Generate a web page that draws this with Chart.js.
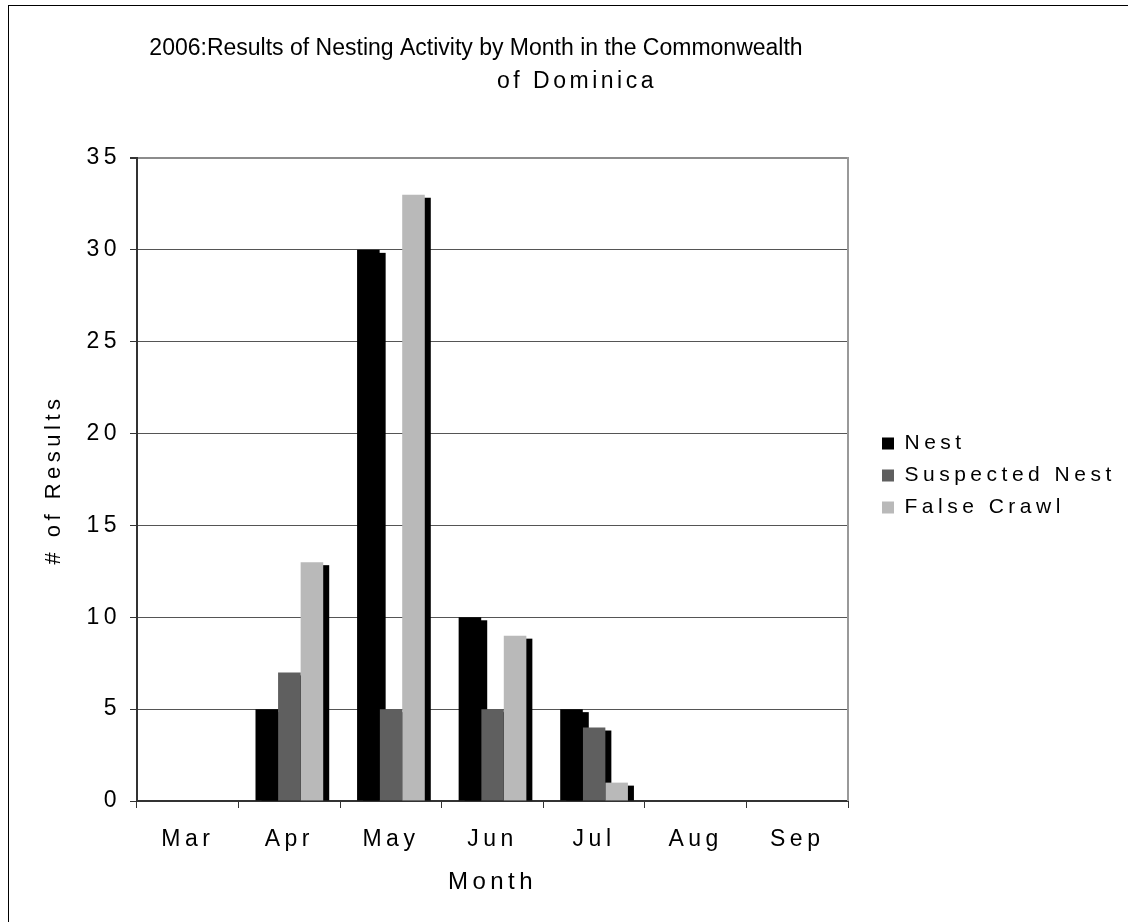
<!DOCTYPE html>
<html>
<head>
<meta charset="utf-8">
<script src="https://cdn.jsdelivr.net/npm/chart.js@4.4.1/dist/chart.umd.min.js"></script>
<style>
  html, body { margin: 0; padding: 0; background: #ffffff; }
  #wrap { width: 1128px; height: 922px; position: relative; }
</style>
</head>
<body>
<div id="wrap"><canvas id="chart" width="1128" height="922"></canvas></div>
<script>
// Monthly nesting results, 2006
const months = ['Mar', 'Apr', 'May', 'Jun', 'Jul', 'Aug', 'Sep'];
const nest = [0, 5, 30, 10, 5, 0, 0];
const suspectedNest = [0, 7, 5, 5, 4, 0, 0];
const falseCrawl = [0, 13, 33, 9, 1, 0, 0];

const seriesNames = ['Nest', 'Suspected Nest', 'False Crawl'];
const seriesColors = ['#000000', '#5f5f5f', '#b9b9b9'];

const titleLines = ['2006:Results of Nesting Activity by Month in the Commonwealth', 'of Dominica'];
const xAxisTitle = 'Month';
const yAxisTitle = '# of Results';
const yRange = { min: 0, max: 35, step: 5 };

const FONT = "'Liberation Sans', Arial, sans-serif";
const SPACING = '4.5px';
const PLOT_RIGHT = 848;
const LEGEND_PAD = 11;
const LEGEND_FONT = 21;
const LEGEND_BOX = 12;

Chart.defaults.font.family = FONT;
Chart.defaults.color = '#000000';

// wide character spacing for axis and legend text
const spacingPlugin = {
  id: 'charSpacing',
  beforeUpdate(chart) { chart.ctx.letterSpacing = SPACING; },
  beforeDraw(chart) { chart.ctx.letterSpacing = SPACING; }
};

// legend sits a little away from the plot, level with its middle
const legendPlacement = {
  id: 'legendPlacement',
  afterLayout(chart, args, opts) {
    const lg = chart.legend;
    if (!lg) return;
    lg.left += opts.dx;
    lg.right += opts.dx;
    lg.top = chart.chartArea.top + opts.dy;
    lg.bottom = chart.chartArea.bottom + opts.dy;
  }
};

// solid drop shadow behind each bar
const barShadow = {
  id: 'barShadow',
  beforeDatasetsDraw(chart, args, opts) {
    const { ctx, chartArea } = chart;
    ctx.save();
    ctx.beginPath();
    ctx.rect(chartArea.left, chartArea.top, chartArea.width, chartArea.height);
    ctx.clip();
    ctx.fillStyle = opts.color;
    chart.data.datasets.forEach((ds, i) => {
      const meta = chart.getDatasetMeta(i);
      if (meta.hidden) return;
      meta.data.forEach(bar => {
        const { x, y, base, width } = bar.getProps(['x', 'y', 'base', 'width'], true);
        const top = y + opts.offsetY;
        if (base - top <= 0) return;
        ctx.fillRect(x - width / 2 + opts.offsetX, top, width, base - top);
      });
    });
    ctx.restore();
  }
};

// outer frame, right edge of the plot, two-line heading
const heading = {
  id: 'heading',
  beforeDraw(chart) {
    const ctx = chart.ctx;
    ctx.save();
    ctx.strokeStyle = '#000000';
    ctx.lineWidth = 1;
    ctx.strokeRect(8.5, 5.5, chart.width + 20, chart.height + 20);
    ctx.restore();
  },
  afterDatasetsDraw(chart) {
    const { ctx, chartArea } = chart;
    ctx.save();
    ctx.strokeStyle = '#999999';
    ctx.lineWidth = 2;
    ctx.beginPath();
    ctx.moveTo(chartArea.right, chartArea.top - 1);
    ctx.lineTo(chartArea.right, chartArea.bottom);
    ctx.stroke();
    ctx.restore();
  },
  afterDraw(chart, args, opts) {
    const ctx = chart.ctx;
    ctx.save();
    ctx.font = opts.size + 'px ' + FONT;
    ctx.fillStyle = '#000000';
    ctx.textAlign = 'center';
    ctx.textBaseline = 'alphabetic';
    titleLines.forEach((t, i) => {
      ctx.letterSpacing = opts.spacing[i];
      ctx.fillText(t, opts.centers[i], opts.baselines[i]);
    });
    ctx.restore();
  }
};

// legend width, so the plot area ends where it should
const mctx = document.createElement('canvas').getContext('2d');
mctx.font = LEGEND_FONT + 'px ' + FONT;
mctx.letterSpacing = SPACING;
const longest = Math.max(...seriesNames.map(s => mctx.measureText(s).width));
const legendWidth = LEGEND_PAD + LEGEND_BOX + LEGEND_FONT / 2 + longest + 10;
const rightPad = 1128 - PLOT_RIGHT - legendWidth;

const datasets = [nest, suspectedNest, falseCrawl].map((d, i) => ({
  label: seriesNames[i],
  data: d,
  backgroundColor: seriesColors[i],
  borderWidth: 0
}));

new Chart(document.getElementById('chart'), {
  type: 'bar',
  data: { labels: months, datasets },
  plugins: [spacingPlugin, legendPlacement, barShadow, heading],
  options: {
    responsive: false,
    animation: false,
    events: [],
    datasets: { bar: { categoryPercentage: 2 / 3, barPercentage: 1 } },
    layout: { padding: { top: 158, left: 0, right: rightPad, bottom: 0 } },
    plugins: {
      title: { display: false },
      tooltip: { enabled: false },
      legend: {
        position: 'right',
        align: 'center',
        fullSize: false,
        labels: {
          boxWidth: LEGEND_BOX,
          boxHeight: LEGEND_BOX,
          padding: LEGEND_PAD,
          color: '#000000',
          font: { size: LEGEND_FONT, lineHeight: 1 }
        }
      },
      legendPlacement: { dx: 23, dy: -4 },
      barShadow: { color: '#000000', offsetX: 6, offsetY: 3 },
      heading: { size: 23, spacing: ['0px', '3.5px'], centers: [476, 577], baselines: [55, 88] }
    },
    scales: {
      x: {
        grid: { offset: true, drawOnChartArea: false, drawTicks: true, tickLength: 7, color: '#333333', lineWidth: 1 },
        border: { color: '#333333', width: 2 },
        ticks: { font: { size: 23 }, color: '#000000', padding: 18, maxRotation: 0 },
        title: { display: true, text: xAxisTitle, font: { size: 24 }, color: '#000000', padding: { top: 0, bottom: 25 } },
        afterFit(s) { s.height = 121; }
      },
      y: {
        min: yRange.min,
        max: yRange.max,
        ticks: { stepSize: yRange.step, font: { size: 23 }, color: '#000000', padding: 9 },
        grid: {
          color: c => (c.tick && c.tick.value === yRange.max ? '#8c8c8c' : '#555555'),
          lineWidth: c => (c.tick && c.tick.value === yRange.max ? 2 : 1),
          tickLength: 7,
          tickColor: '#333333'
        },
        border: { color: '#333333', width: 2 },
        title: { display: true, text: yAxisTitle, font: { size: 22 }, color: '#000000', padding: { top: 41, bottom: 0 } },
        afterFit(s) { s.width = 137; }
      }
    }
  }
});
</script>
</body>
</html>
